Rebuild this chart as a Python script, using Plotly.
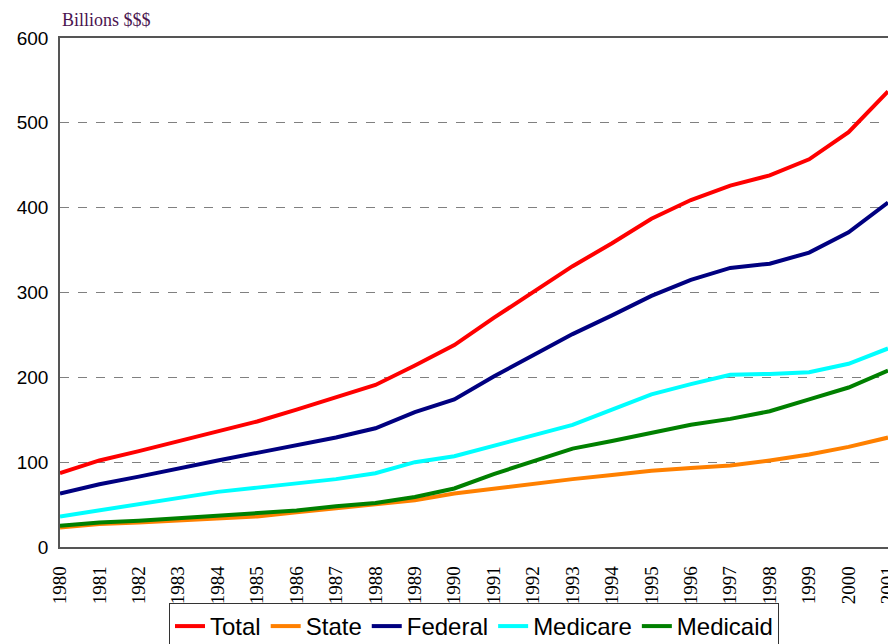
import plotly.graph_objects as go

years = list(range(1980, 2002))

total = [87, 102, 113, 125, 136, 148, 162, 176, 191, 214, 238, 270,
         301, 331, 358, 387, 409, 426, 438, 457, 489, 537]
state = [23, 27, 29, 31, 33, 36, 41, 46, 50, 55, 63, 69,
         74, 80, 85, 90, 93, 96, 102, 109, 118, 129]
federal = [63, 74, 83, 93, 102, 111, 120, 129, 140, 159, 174, 201,
           226, 251, 273, 296, 315, 329, 334, 347, 371, 406]
medicare = [36, 43, 51, 58, 65, 70, 75, 80, 87, 100, 107, 119,
            131, 144, 162, 180, 192, 203, 204, 206, 216, 234]
medicaid = [25, 29, 31, 34, 37, 40, 43, 48, 52, 59, 69, 86,
            101, 116, 125, 135, 144, 151, 160, 174, 188, 208]

series = [
    ("Total", total, "#FF0000"),
    ("State", state, "#FF8000"),
    ("Federal", federal, "#000080"),
    ("Medicare", medicare, "#00FFFF"),
    ("Medicaid", medicaid, "#008000"),
]

fig = go.Figure()
for name, vals, color in series:
    fig.add_trace(go.Scatter(x=years, y=vals, name=name, mode="lines",
                             line=dict(color=color, width=4)))

# page body adds an 8px margin, so the figure is sized to end at the window edge
fig.update_layout(
    width=888, height=636,
    margin=dict(l=52, r=8, t=30, b=97, autoexpand=False),
    plot_bgcolor="white",
    paper_bgcolor="white",
    showlegend=True,
    legend=dict(orientation="h", x=0.5, xanchor="center", y=-0.11, yanchor="top",
                bordercolor="#333333", borderwidth=1, itemwidth=30,
                font=dict(family="Liberation Sans, Arial", size=24, color="black"),
                tracegroupgap=0),
    annotations=[dict(text="Billions $$$", xref="paper", yref="paper", x=0, y=1,
                      xanchor="left", yanchor="bottom", yshift=6, showarrow=False,
                      font=dict(family="Liberation Serif, Times New Roman", size=18,
                                color="#4B1450"))],
)

fig.update_xaxes(range=[1980, 2001], tickmode="array", tickvals=years,
                 ticktext=[str(y) for y in years], tickangle=-90,
                 tickfont=dict(family="Liberation Serif, Times New Roman", size=19, color="black"),
                 ticklabelstandoff=10, ticklabeloverflow="allow",
                 showgrid=False, showline=True, linecolor="#555555", linewidth=1.5,
                 mirror=True, ticks="", zeroline=False)
fig.update_yaxes(range=[0, 600], dtick=100,
                 tickfont=dict(family="Liberation Sans, Arial", size=19, color="black"),
                 ticklabelstandoff=6,
                 showgrid=True, gridcolor="#808080", griddash="dash", gridwidth=1,
                 showline=True, linecolor="#555555", linewidth=1.5, mirror=True,
                 ticks="", zeroline=False)

fig.write_html("out.html")
